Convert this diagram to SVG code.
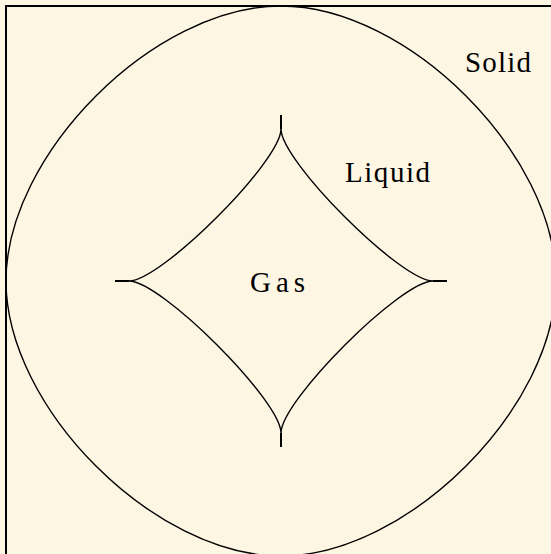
<svg xmlns="http://www.w3.org/2000/svg" width="551" height="554" viewBox="0 0 551 554">
<style>
.bg{fill:#FDF6E3;}
.frame{fill:none;stroke:#000;stroke-width:2;}
.curve{fill:none;stroke:#000;stroke-width:1.4;stroke-linejoin:round;}
.tail{fill:none;stroke:#000;stroke-width:2;}
.lbl{font-size:29px;fill:#000;}
</style>
<rect class="bg" x="0" y="0" width="551" height="554"/>
<rect class="frame" x="6" y="6" width="552" height="552"/>
<g id="solid">
<path class="curve" d="M556,281 C556,407.8 407.8,556 281,556 C154.2,556 6,407.8 6,281 C6,154.2 154.2,6 281,6 C407.8,6 556,154.2 556,281 Z"/>
<text class="lbl" font-family="Liberation Serif, DejaVu Serif, serif" x="465" y="72" textLength="66" lengthAdjust="spacing">Solid</text>
</g>
<g id="liquid">
<text class="lbl" font-family="Liberation Serif, DejaVu Serif, serif" x="345" y="182" textLength="85" lengthAdjust="spacing">Liquid</text>
</g>
<g id="gas">
<path class="curve" d="M433,281 C400.8,281 281,400.8 281,433 C281,400.8 161.2,281 129,281 C161.2,281 281,161.2 281,129 C281,161.2 400.8,281 433,281 Z"/>
<path class="tail" d="M433,281 H447 M129,281 H115 M281,129 V115 M281,433 V447"/>
<text class="lbl" font-family="Liberation Serif, DejaVu Serif, serif" x="250" y="292" textLength="55" lengthAdjust="spacing">Gas</text>
</g>
</svg>
